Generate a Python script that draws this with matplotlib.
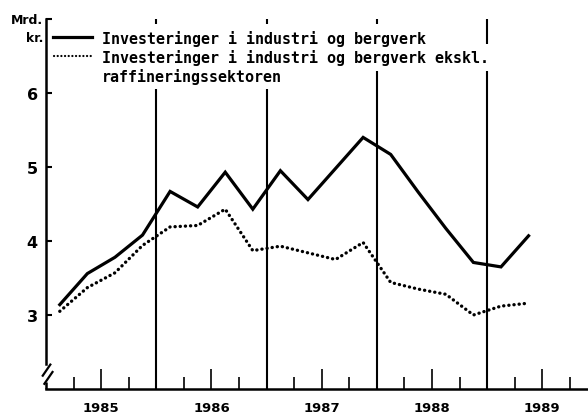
import matplotlib
matplotlib.use("Agg")
import matplotlib.pyplot as plt
import numpy as np

# ---- data -------------------------------------------------------------
years = [1985]*4 + [1986]*4 + [1987]*4 + [1988]*4 + [1989]*2
quarters = [1, 2, 3, 4]*4 + [1, 2]
total = [3.14, 3.56, 3.78, 4.08, 4.67, 4.46, 4.93, 4.43, 4.95, 4.56,
         4.98, 5.40, 5.17, 4.66, 4.17, 3.71, 3.65, 4.07]
excl_refining = [3.05, 3.37, 3.57, 3.94, 4.19, 4.21, 4.43, 3.87, 3.93, 3.84,
                 3.75, 3.98, 3.44, 3.35, 3.28, 3.00, 3.12, 3.16]
year_labels = ["1985", "1986", "1987", "1988", "1989"]
ytick_vals = [3, 4, 5, 6]
label_total = "Investeringer i industri og bergverk"
label_excl = "Investeringer i industri og bergverk ekskl.\nraffineringssektoren"

# ---- figure -----------------------------------------------------------
W, H = 588, 414
fig = plt.figure(figsize=(W/100, H/100), dpi=100)
ax = fig.add_axes([46/W, 24/H, 542/W, 370/H])

x = np.array(years) + (np.array(quarters) - 0.5) / 4.0
ax.set_xlim(1985, 1985 + 542/110.3)
ax.set_ylim(2, 7)

# year boundary lines
for yr in [1986, 1987, 1988, 1989]:
    ax.axvline(yr, 0, 1, color="black", lw=1.5, zorder=1)

ax.plot(x, total, color="black", lw=2.3, solid_joinstyle="miter", zorder=3)
ax.plot(x, excl_refining, color="black", lw=2.4, linestyle=(0, (0.05, 1.5)),
        dash_capstyle="round", zorder=3)

# spines
for s in ["top", "right"]:
    ax.spines[s].set_visible(False)
ax.spines["bottom"].set_linewidth(1.8)
ax.spines["left"].set_linewidth(1.8)
ax.spines["left"].set_bounds(2.34, 7)
# bottom stub of y axis + break marks
ax.plot([0, 0], [0, 0.019], transform=ax.transAxes, color="black", lw=1.8,
        clip_on=False, solid_capstyle="butt")
ax.plot([-0.006, 0.008], [0.036, 0.066], transform=ax.transAxes, color="black",
        lw=1.6, clip_on=False)
ax.plot([-0.003, 0.012], [0.014, 0.046], transform=ax.transAxes, color="black",
        lw=1.6, clip_on=False)

# x ticks
mid = [int(l) + 0.5 for l in year_labels]
ax.set_xticks(mid)
ax.set_xticklabels(year_labels, fontsize=9.5, fontweight="bold")
minor = []
for l in year_labels:
    minor += [int(l) + 0.25, int(l) + 0.75]
ax.set_xticks(minor, minor=True)
ax.tick_params(axis="x", which="major", direction="in", length=14.5, width=1.2, pad=9)
ax.tick_params(axis="x", which="minor", direction="in", length=9, width=1.2)

# y ticks
ax.set_yticks(ytick_vals + [7])
ax.set_yticklabels([str(v) for v in ytick_vals] + [""], fontsize=11.5, fontweight="bold")
ax.tick_params(axis="y", direction="in", length=4, width=1.5, pad=6)

# unit label
fig.text(43/W, 1 - 21/H, "Mrd.", ha="right", va="center", fontsize=9, fontweight="bold")
fig.text(43/W, 1 - 39/H, "kr.", ha="right", va="center", fontsize=9, fontweight="bold")

# legend
ax.plot([0.0129, 0.0849], [0.951, 0.951], transform=ax.transAxes, color="black",
        lw=2.3, clip_on=False, zorder=6)
ax.plot([0.0145, 0.083], [0.9, 0.9], transform=ax.transAxes, color="black",
        lw=1.6, linestyle=(0, (0.05, 1.6)), dash_capstyle="round", clip_on=False, zorder=6)
mono = dict(family="DejaVu Sans Mono", fontweight="bold", fontsize=10.8,
            ha="left", va="center", transform=ax.transAxes)
l1, l2 = label_excl.split("\n")
for ty, txt in [(0.9486, label_total), (0.897, l1), (0.847, l2)]:
    # white knock-out behind the text, then the text itself on top
    ax.text(0.1033, ty, txt, color="white", zorder=5,
            bbox=dict(facecolor="white", edgecolor="none", pad=4), **mono)
    ax.text(0.1033, ty, txt, color="black", zorder=7, **mono)

fig.savefig("out.png", dpi=100)
